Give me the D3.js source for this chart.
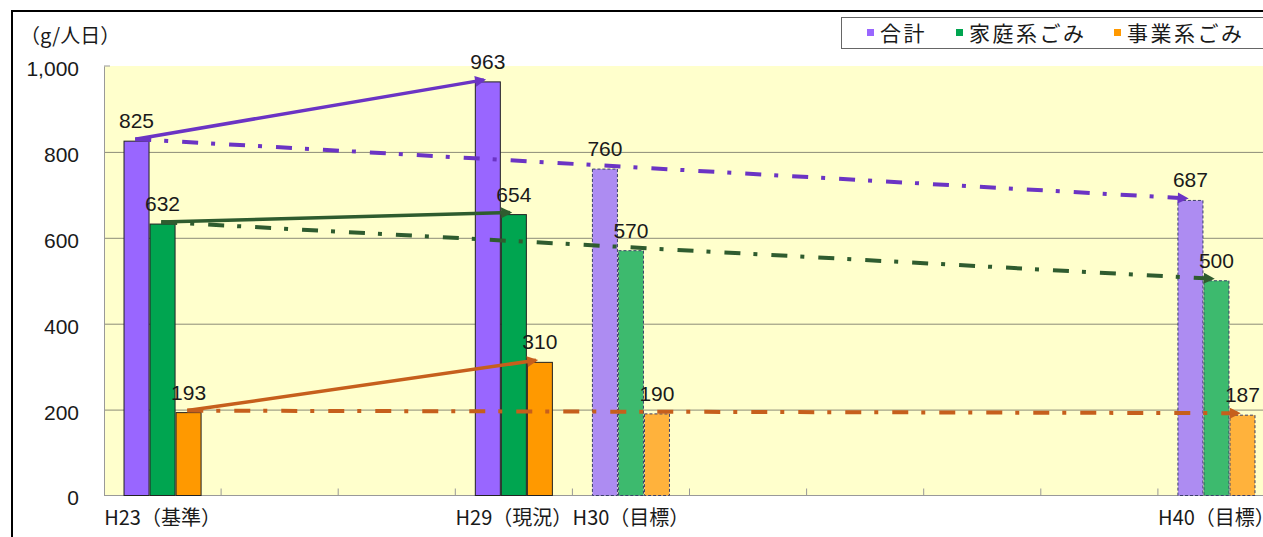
<!DOCTYPE html>
<html>
<head>
<meta charset="utf-8">
<script src="https://cdn.jsdelivr.net/npm/d3@7"></script>
<style>
  html, body { margin: 0; padding: 0; background: #fff; }
  svg { display: block; }
  .num { font-family: "Liberation Sans", Arial, sans-serif; font-size: 21px; fill: #1a1a1a; }
  .jp { font-family: "Noto Sans CJK JP", sans-serif; fill: #1a1a1a; }
</style>
</head>
<body>
<svg id="chart" width="1263" height="537"></svg>
<script>
// slots along the category axis (only some carry a label)
const slots = ['H23', 's1', 's2', 'H29', 'H30', 's5', 's6', 's7', 's8', 'H40']
const slotLabels = ['H23（基準）', '', '', 'H29（現況）', 'H30（目標）', '', '', '', '', 'H40（目標）']

const barYears = ['H23', 'H29', 'H30', 'H40']
const isTarget = [false, false, true, true]

const seriesNames = ['合計', '家庭系ごみ', '事業系ごみ']
const total = [825, 963, 760, 687]
const household = [632, 654, 570, 500]
const business = [193, 310, 190, 187]

const yTicks = [0, 200, 400, 600, 800, 1000]
const unitLabel = '（g/人日）'

// trend arrows: actual (H23 -> H29) and target (H23 -> H40)
const arrows = [
  { series: 0, from: 'H23', to: 'H29', kind: 'actual' },
  { series: 1, from: 'H23', to: 'H29', kind: 'actual' },
  { series: 2, from: 'H23', to: 'H29', kind: 'actual' },
  { series: 0, from: 'H23', to: 'H40', kind: 'target' },
  { series: 1, from: 'H23', to: 'H40', kind: 'target' },
  { series: 2, from: 'H23', to: 'H40', kind: 'target' },
]

const seriesValues = [total, household, business]
const fillSolid = ['#9966ff', '#00a550', '#ff9900']
const fillLight = ['#ad8cf2', '#3dba6e', '#ffb23c']
const lineColor = ['#6b34c4', '#2f5c2f', '#c65f1c']

const svg = d3.select('#chart')

const plot = { left: 104, right: 1275, top: 66, bottom: 495.5 }

const x = d3.scaleBand()
    .domain(slots)
    .range([plot.left, plot.right])

const sub = d3.scaleBand()
    .domain(d3.range(seriesNames.length))
    .range([0, x.bandwidth()])
    .paddingOuter(0.75)

const y = d3.scaleLinear()
    .domain([0, 1000])
    .range([plot.bottom, plot.top])

// outer frame
svg.append('path')
    .attr('d', 'M12,537 L12,11 L1263,11')
    .attr('fill', 'none')
    .attr('stroke', '#000')
    .attr('stroke-width', 2)

// plot background
svg.append('rect')
    .attr('x', plot.left)
    .attr('y', plot.top)
    .attr('width', plot.right - plot.left)
    .attr('height', plot.bottom - plot.top)
    .attr('fill', '#ffffcc')

// gridlines
svg.append('g')
    .attr('transform', `translate(${plot.left},0)`)
    .call(d3.axisLeft(y)
      .tickValues(yTicks.filter(d => d > 0 && d < 1000))
      .tickSize(-(plot.right - plot.left))
      .tickFormat(''))
    .call(g => g.select('.domain').remove())
    .call(g => g.selectAll('.tick line').attr('stroke', '#8c8c78').attr('stroke-width', 1))

// y axis
svg.append('g')
    .attr('transform', `translate(${plot.left},0)`)
    .call(d3.axisLeft(y)
      .tickValues(yTicks)
      .tickSize(0)
      .tickPadding(25)
      .tickFormat(d3.format(',')))
    .call(g => g.select('.domain').attr('stroke', '#999'))
    .call(g => g.selectAll('.tick text')
      .attr('class', 'num')
      .attr('dy', '0.45em')
      .attr('font-family', null)
      .attr('font-size', null))

svg.append('line')
    .attr('x1', plot.left)
    .attr('x2', plot.left + 6)
    .attr('y1', y(1000))
    .attr('y2', y(1000))
    .attr('stroke', '#999')

// x axis
svg.append('line')
    .attr('x1', plot.left)
    .attr('x2', plot.right)
    .attr('y1', plot.bottom)
    .attr('y2', plot.bottom)
    .attr('stroke', '#999')

svg.append('g')
    .selectAll('line')
    .data(slots.slice(1))
    .join('line')
    .attr('x1', d => x(d))
    .attr('x2', d => x(d))
    .attr('y1', plot.bottom)
    .attr('y2', plot.bottom - 7)
    .attr('stroke', '#999')

svg.append('g')
    .attr('transform', `translate(0,${plot.bottom})`)
    .call(d3.axisBottom(x)
      .tickSize(0)
      .tickPadding(15)
      .tickFormat((d, i) => slotLabels[i]))
    .call(g => g.select('.domain').remove())
    .call(g => g.selectAll('.tick text')
      .attr('class', 'jp')
      .attr('font-family', null)
      .attr('font-size', null)
      .style('font-size', '20px'))

// bars
const bars = []
barYears.forEach((yr, i) => {
  seriesValues.forEach((vals, s) => {
    bars.push({ year: yr, series: s, value: vals[i], target: isTarget[i] })
  })
})

svg.append('g')
    .selectAll('rect')
    .data(bars)
    .join('rect')
    .attr('x', d => x(d.year) + sub(d.series) + 0.5)
    .attr('y', d => y(d.value))
    .attr('width', sub.bandwidth() - 1)
    .attr('height', d => y(0) - y(d.value))
    .attr('fill', d => d.target ? fillLight[d.series] : fillSolid[d.series])
    .attr('stroke', d => d.target ? '#3a3f6a' : '#222')
    .attr('stroke-width', 1)
    .attr('stroke-dasharray', d => d.target ? '3,2' : null)

// arrow markers
const defs = svg.append('defs')
lineColor.forEach((c, s) => {
  defs.append('marker')
      .attr('id', `head${s}`)
      .attr('viewBox', '0 0 10 10')
      .attr('refX', 8)
      .attr('refY', 5)
      .attr('markerUnits', 'userSpaceOnUse')
      .attr('markerWidth', 13)
      .attr('markerHeight', 11)
      .attr('orient', 'auto')
    .append('path')
      .attr('d', 'M0,0 L10,5 L0,10 Z')
      .attr('fill', c)
})

const barValue = (s, yr) => seriesValues[s][barYears.indexOf(yr)]

svg.append('g')
    .selectAll('line')
    .data(arrows)
    .join('line')
    .attr('x1', d => x(d.from) + sub(d.series) + sub.bandwidth() * 0.45)
    .attr('y1', d => y(barValue(d.series, d.from)) - 2)
    .attr('x2', d => x(d.to) + sub(d.series) + sub.bandwidth() * 0.35)
    .attr('y2', d => y(barValue(d.series, d.to)) - 2)
    .attr('stroke', d => lineColor[d.series])
    .attr('stroke-width', d => d.kind === 'actual' ? 3.5 : 4)
    .attr('stroke-dasharray', d => d.kind === 'target' ? '16,13,4,14' : null)
    .attr('marker-end', d => `url(#head${d.series})`)

// value labels
svg.append('g')
    .selectAll('text')
    .data(bars)
    .join('text')
    .attr('class', 'num')
    .attr('x', d => x(d.year) + sub(d.series) + sub.bandwidth() / 2)
    .attr('y', d => y(d.value) - 13)
    .attr('text-anchor', 'middle')
    .text(d => d.value)

// unit label
svg.append('text')
    .attr('class', 'jp')
    .attr('x', 20)
    .attr('y', 43)
    .style('font-size', '20px')
    .text(unitLabel)

// legend
const legend = svg.append('g')

legend.append('rect')
    .attr('x', 841.5)
    .attr('y', 17.5)
    .attr('width', 440)
    .attr('height', 31)
    .attr('fill', '#fff')
    .attr('stroke', '#666')

const legendX = [867, 956, 1114]
const legendItems = legend.selectAll('g.item')
    .data(seriesNames)
    .join('g')
    .attr('class', 'item')
    .attr('transform', (d, i) => `translate(${legendX[i]},33)`)

legendItems.append('rect')
    .attr('x', 0)
    .attr('y', -4)
    .attr('width', 7)
    .attr('height', 7)
    .attr('fill', (d, i) => fillSolid[i])

legendItems.append('text')
    .attr('class', 'jp')
    .attr('x', 13)
    .attr('y', 8)
    .style('font-size', '21px')
    .style('letter-spacing', '2.5px')
    .text(d => d)
</script>
</body>
</html>
